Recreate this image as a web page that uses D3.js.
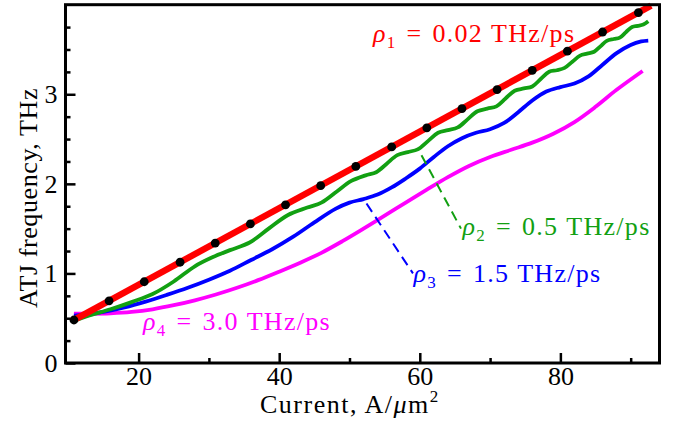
<!DOCTYPE html>
<html>
<head>
<meta charset="utf-8">
<script src="https://cdn.jsdelivr.net/npm/d3@7"></script>
<style>
  body { margin: 0; background: #fff; }
  svg text { font-family: "Liberation Serif", "Times New Roman", serif; }
</style>
</head>
<body>
<div id="chart"></div>
<script>
// rho1 = 0.02 THz/ps : straight red line with black markers
var redX = [10.5, 92.9];
var redY = [0.467, 3.99];
var dotX = [10.8, 15.8, 20.8, 25.9, 30.9, 35.9, 40.9, 45.9, 50.9, 56, 61, 66, 71, 76, 81, 86, 91.1];
var dotY = [0.48, 0.694, 0.907, 1.125, 1.339, 1.553, 1.766, 1.98, 2.194, 2.412, 2.626, 2.84, 3.053, 3.267, 3.481, 3.695, 3.912];

// rho2 = 0.5 THz/ps (green, wavy)
var greenX = [10.8, 13, 16, 19, 22, 25, 28, 30.5, 33, 35.8, 38.5, 41.2, 44, 46, 48.2, 50.2, 52.3, 53.8, 55.3, 56.8,
  58.3, 59.7, 61.2, 62.6, 64, 65.4, 66.8, 68.2, 69.6, 70.9, 72.2, 73.5, 74.8, 76, 77.2, 78.4, 79.5, 80.6, 81.7,
  82.8, 83.8, 84.8, 85.7, 86.6, 87.6, 88.45, 89.3, 90.2, 91, 91.8, 92.5];
var greenY = [0.47, 0.53, 0.6, 0.68, 0.77, 0.91, 1.08, 1.18, 1.26, 1.345, 1.5, 1.65, 1.735, 1.79, 1.915, 2.03, 2.095, 2.13, 2.225, 2.32,
  2.355, 2.385, 2.48, 2.57, 2.6, 2.63, 2.72, 2.81, 2.84, 2.865, 2.953, 3.04, 3.065, 3.087, 3.17, 3.252, 3.268, 3.294, 3.363,
  3.432, 3.454, 3.475, 3.535, 3.596, 3.617, 3.632, 3.691, 3.752, 3.764, 3.779, 3.815];

// rho3 = 1.5 THz/ps (blue)
var blueX = [10.8, 13, 15, 18, 21, 24, 27, 30, 33, 36, 39, 42, 45, 48, 50, 52, 54, 56, 58, 60, 62, 64, 66, 68, 70,
  72, 74, 76, 78, 80, 82, 84, 86, 88, 90, 91.5, 92.5];
var blueY = [0.53, 0.545, 0.57, 0.62, 0.685, 0.76, 0.84, 0.93, 1.03, 1.15, 1.27, 1.41, 1.57, 1.72, 1.79, 1.83, 1.88, 1.96, 2.06, 2.17,
  2.3, 2.42, 2.51, 2.57, 2.61, 2.68, 2.8, 2.93, 3.03, 3.08, 3.12, 3.2, 3.33, 3.46, 3.55, 3.59, 3.6];

// rho4 = 3.0 THz/ps (magenta)
var magX = [10.8, 13, 16, 19, 22, 25, 28, 31, 34, 37, 40, 43, 46, 49, 52, 55, 58, 61, 64, 67, 70, 73, 76, 79, 82, 85, 88, 91.7];
var magY = [0.55, 0.55, 0.555, 0.57, 0.6, 0.645, 0.7, 0.765, 0.84, 0.925, 1.02, 1.12, 1.23, 1.36, 1.5, 1.645, 1.79, 1.935, 2.075,
  2.2, 2.3, 2.38, 2.46, 2.56, 2.69, 2.86, 3.05, 3.26];

// dashed leader lines from the labels to the curves
var greenLeaderX = [60.24, 65.86];
var greenLeaderY = [2.32, 1.5];
var blueLeaderX = [52.42, 59.03];
var blueLeaderY = [1.78, 1.0];

var xTicks = [20, 40, 60, 80];
var xMinor = [30, 50, 70, 90];
var yTicks = [0, 1, 2, 3];
var yMinor = [0.25, 0.5, 0.75, 1.25, 1.5, 1.75, 2.25, 2.5, 2.75, 3.25, 3.5, 3.75];

var labelNames = ["1", "2", "3", "4"];
var labelTexts = ["0.02", "0.5", "1.5", "3.0"];
var labelX = [53.34, 66.08, 59.1, 20.62];
var labelY = [3.58, 1.43, 0.9, 0.37];
var labelColors = ["#ff0000", "#12a012", "#0000ff", "#ff00ff"];

var width = 688, height = 424;
var x = d3.scaleLinear().domain([9.6, 94.1]).range([65.5, 659.5]);
var y = d3.scaleLinear().domain([0, 4]).range([363, 4.7]);

var svg = d3.select("#chart").append("svg")
    .attr("width", width)
    .attr("height", height);

var zip = function(xs, ys) { return xs.map(function(v, i) { return [v, ys[i]]; }); };

var line = d3.line()
    .x(function(d) { return x(d[0]); })
    .y(function(d) { return y(d[1]); });

var smooth = d3.line()
    .x(function(d) { return x(d[0]); })
    .y(function(d) { return y(d[1]); })
    .curve(d3.curveCatmullRom.alpha(0.5));

var plot = svg.append("g");

plot.append("path").datum(zip(magX, magY))
    .attr("d", smooth).attr("fill", "none")
    .attr("stroke", "#ff00ff").attr("stroke-width", 3.8);
plot.append("path").datum(zip(blueX, blueY))
    .attr("d", smooth).attr("fill", "none")
    .attr("stroke", "#0000ff").attr("stroke-width", 3.8);
plot.append("path").datum(zip(greenX, greenY))
    .attr("d", smooth).attr("fill", "none")
    .attr("stroke", "#12a012").attr("stroke-width", 3.8);
plot.append("path").datum(zip(redX, redY))
    .attr("d", line).attr("fill", "none")
    .attr("stroke", "#ff0000").attr("stroke-width", 6.5);

plot.selectAll("circle.dot")
    .data(zip(dotX, dotY))
    .enter().append("circle")
    .attr("class", "dot")
    .attr("cx", function(d) { return x(d[0]); })
    .attr("cy", function(d) { return y(d[1]); })
    .attr("r", 4.4)
    .attr("fill", "#000");

// leaders
plot.append("path").datum(zip(greenLeaderX, greenLeaderY))
    .attr("d", line).attr("fill", "none")
    .attr("stroke", "#12a012").attr("stroke-width", 2)
    .attr("stroke-dasharray", "10,6");
plot.append("path").datum(zip(blueLeaderX, blueLeaderY))
    .attr("d", line).attr("fill", "none")
    .attr("stroke", "#0000ff").attr("stroke-width", 2)
    .attr("stroke-dasharray", "10,6");

// curve labels
labelNames.forEach(function(n, i) {
  var t = svg.append("text")
      .attr("x", x(labelX[i]))
      .attr("y", y(labelY[i]))
      .attr("fill", labelColors[i])
      .attr("font-size", 26)
      .attr("letter-spacing", 1.3);
  t.append("tspan").attr("font-style", "italic").text("\u03c1");
  t.append("tspan").attr("font-size", 17).attr("dy", 6).text(n);
  t.append("tspan").attr("dy", -6).text("\u2004=\u2004" + labelTexts[i] + " THz/ps");
});

// axes, ticks pointing inwards
var xAxis = svg.append("g")
    .attr("transform", "translate(0," + y(0) + ")")
    .call(d3.axisBottom(x).tickValues(xTicks).tickSize(-10).tickPadding(4).tickFormat(d3.format("d")));
var xAxisMinor = svg.append("g")
    .attr("transform", "translate(0," + y(0) + ")")
    .call(d3.axisBottom(x).tickValues(xMinor).tickSize(-5).tickFormat(""));
var yAxis = svg.append("g")
    .attr("transform", "translate(" + x(9.6) + ",0)")
    .call(d3.axisLeft(y).tickValues(yTicks).tickSize(-10).tickPadding(8).tickFormat(d3.format("d")));
var yAxisMinor = svg.append("g")
    .attr("transform", "translate(" + x(9.6) + ",0)")
    .call(d3.axisLeft(y).tickValues(yMinor).tickSize(-5).tickFormat(""));

[xAxis, xAxisMinor, yAxis, yAxisMinor].forEach(function(g) {
  g.select(".domain").remove();
  g.selectAll(".tick line").attr("stroke", "#000").attr("stroke-width", 2.5);
  g.selectAll("text")
      .attr("font-family", "Liberation Serif, serif")
      .attr("font-size", 26)
      .attr("fill", "#000");
});

svg.append("rect")
    .attr("x", x(9.6)).attr("y", y(4))
    .attr("width", x(94.1) - x(9.6))
    .attr("height", y(0) - y(4))
    .attr("fill", "none")
    .attr("stroke", "#000")
    .attr("stroke-width", 3);

// axis titles
var xt = svg.append("text")
    .attr("x", 260).attr("y", 413)
    .attr("font-size", 26).attr("letter-spacing", 1.5);
xt.append("tspan").text("Current, A/");
xt.append("tspan").attr("font-style", "italic").text("\u03bc");
xt.append("tspan").text("m");
xt.append("tspan").attr("font-size", 17).attr("dy", -11).text("2");

svg.append("text")
    .attr("transform", "translate(37,198) rotate(-90)")
    .attr("text-anchor", "middle")
    .attr("font-size", 26)
    .attr("letter-spacing", 0.6)
    .text("ATJ frequency, THz");
</script>
</body>
</html>
